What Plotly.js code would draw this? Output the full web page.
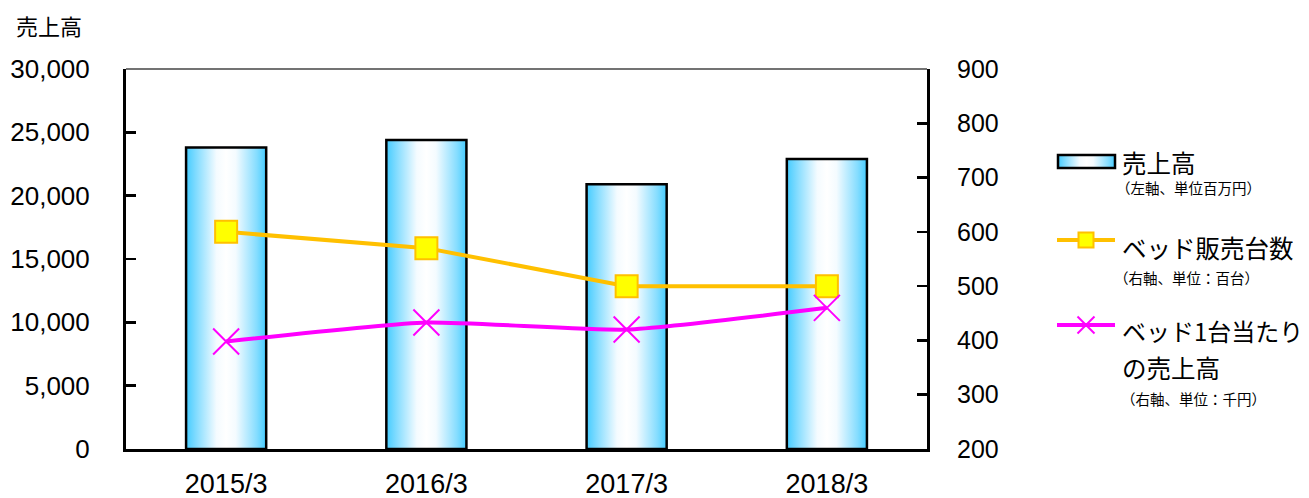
<!DOCTYPE html>
<html>
<head>
<meta charset="utf-8">
<script src="https://cdn.plot.ly/plotly-3.0.1.min.js"></script>
<style>html,body{margin:0;padding:0;background:#fff;}#chart{width:1309px;height:498px;}</style>
</head>
<body>
<div id="chart"></div>
<script>
// ---- data ----
const categories = ['2015/3', '2016/3', '2017/3', '2018/3'];
const salesMillionYen = [23800, 24400, 20900, 22900];
const bedUnitsHundreds = [600, 570, 500, 500];
const salesPerBedThousandYen = [398, 433, 420, 460];
const leftTickValues = [0, 5000, 10000, 15000, 20000, 25000, 30000];
const rightTickValues = [200, 300, 400, 500, 600, 700, 800, 900];
const axisTitle = '売上高';
const legendMain = ['売上高', 'ベッド販売台数', 'ベッド1台当たり', 'の売上高'];
const legendSub = ['（左軸、単位百万円）', '（右軸、単位：百台）', '（右軸、単位：千円）'];

// ---- layout geometry (pixels) ----
const W = 1309, H = 498;
const PL = 126, PR = 927, PT = 69, PB = 449;
const px = x => (x - PL) / (PR - PL);
const py = y => (PB - y) / (PB - PT);

const JP = '"Noto Sans CJK JP", "Noto Sans", sans-serif';
const NUM = '"Liberation Sans", Arial, sans-serif';
const ORANGE = '#FFC000', MAGENTA = '#FF00FF', SENTINEL = 'rgb(69, 204, 255)';

const traces = [
  {
    type: 'bar', x: categories, y: salesMillionYen, name: legendMain[0],
    marker: { color: SENTINEL, line: { color: '#000', width: 2.5 } },
    yaxis: 'y', hoverinfo: 'skip'
  },
  {
    type: 'scatter', mode: 'lines+markers', x: categories, y: bedUnitsHundreds, yaxis: 'y2',
    line: { color: ORANGE, width: 4 },
    marker: { symbol: 'square', size: 22, color: '#FFFF00', line: { color: ORANGE, width: 2 } },
    hoverinfo: 'skip'
  },
  {
    type: 'scatter', mode: 'lines+markers', x: categories, y: salesPerBedThousandYen, yaxis: 'y2',
    line: { color: MAGENTA, width: 4, shape: 'spline', smoothing: 0.5 },
    marker: { symbol: 'x-thin', size: 26, color: MAGENTA, line: { color: MAGENTA, width: 2 } },
    hoverinfo: 'skip'
  }
];

const shapes = [
  // thin top border
  { type: 'line', xref: 'paper', yref: 'paper', x0: 0, x1: 1, y0: 1, y1: 1, line: { color: '#444', width: 1.5 } },
  // legend: bar symbol
  { type: 'rect', xref: 'paper', yref: 'paper', x0: px(1058), x1: px(1115), y0: py(168), y1: py(155),
    fillcolor: SENTINEL, line: { color: '#000', width: 2.5 } },
  // legend: orange line + square
  { type: 'line', xref: 'paper', yref: 'paper', x0: px(1057), x1: px(1115), y0: py(240), y1: py(240),
    line: { color: ORANGE, width: 4 } },
  { type: 'rect', xref: 'paper', yref: 'paper', x0: px(1078.5), x1: px(1093.5), y0: py(247.5), y1: py(232.5),
    fillcolor: '#FFFF00', line: { color: ORANGE, width: 2 } },
  // legend: magenta line + x
  { type: 'line', xref: 'paper', yref: 'paper', x0: px(1057), x1: px(1115), y0: py(325), y1: py(325),
    line: { color: MAGENTA, width: 4 } },
  { type: 'line', xref: 'paper', yref: 'paper', x0: px(1077.5), x1: px(1094.5), y0: py(316.5), y1: py(333.5),
    line: { color: MAGENTA, width: 2 } },
  { type: 'line', xref: 'paper', yref: 'paper', x0: px(1077.5), x1: px(1094.5), y0: py(333.5), y1: py(316.5),
    line: { color: MAGENTA, width: 2 } }
];

function ann(text, x, y, size) {
  return { text: text, xref: 'paper', yref: 'paper', x: px(x), y: py(y), xanchor: 'left', yanchor: 'middle',
    showarrow: false, font: { family: JP, size: size, color: '#000' }, borderpad: 0 };
}

const annotations = [
  ann(axisTitle, 15, 25, 22),
  ann(legendMain[0], 1121, 162, 24.5),
  ann(legendSub[0], 1115, 187, 14.5),
  ann(legendMain[1], 1121, 247, 24.5),
  ann(legendSub[1], 1113, 277, 14.5),
  ann(legendMain[2], 1121, 330, 24),
  ann(legendMain[3], 1121, 367, 24.5),
  ann(legendSub[2], 1120, 398, 14.5)
];

const layout = {
  width: W, height: H,
  margin: { l: PL, r: W - PR, t: PT, b: H - PB, pad: 0 },
  paper_bgcolor: '#fff', plot_bgcolor: '#fff',
  showlegend: false,
  bargap: 0.6,
  xaxis: {
    type: 'category', categoryorder: 'array', categoryarray: categories, range: [-0.5, 3.5],
    showline: true, linecolor: '#000', linewidth: 3, ticks: '', showgrid: false, zeroline: false,
    tickfont: { family: NUM, size: 27, color: '#000' }, ticklabelstandoff: 9, fixedrange: true
  },
  yaxis: {
    range: [0, 30000], tickvals: leftTickValues, tickformat: ',d',
    showline: true, linecolor: '#000', linewidth: 3, ticks: 'inside', ticklen: 10, tickwidth: 2.5, tickcolor: '#000',
    showgrid: false, zeroline: false,
    tickfont: { family: NUM, size: 26, color: '#000' }, ticklabelstandoff: 28, fixedrange: true
  },
  yaxis2: {
    range: [200, 900], tickvals: rightTickValues, overlaying: 'y', side: 'right',
    showline: true, linecolor: '#000', linewidth: 3, ticks: 'inside', ticklen: 10, tickwidth: 2.5, tickcolor: '#000',
    showgrid: false, zeroline: false,
    tickfont: { family: NUM, size: 25, color: '#000' }, ticklabelstandoff: 22, fixedrange: true
  },
  shapes: shapes,
  annotations: annotations
};

Plotly.newPlot('chart', traces, layout, { staticPlot: true, displayModeBar: false }).then(function (gd) {
  // horizontal cyan-white-cyan gradient for bars and legend bar symbol
  const svg = gd.querySelector('svg.main-svg');
  const NS = 'http://www.w3.org/2000/svg';
  let defs = svg.querySelector('defs');
  if (!defs) { defs = document.createElementNS(NS, 'defs'); svg.insertBefore(defs, svg.firstChild); }
  const g = document.createElementNS(NS, 'linearGradient');
  g.setAttribute('id', 'barGrad');
  g.setAttribute('x1', '0'); g.setAttribute('x2', '1'); g.setAttribute('y1', '0'); g.setAttribute('y2', '0');
  [[0, '#45CCFF'], [0.12, '#7FDBFF'], [0.38, '#F4FBFF'], [0.5, '#FFFFFF'], [0.62, '#F4FBFF'], [0.88, '#86DDFF'], [1, '#45CCFF']]
    .forEach(function (s) {
      const st = document.createElementNS(NS, 'stop');
      st.setAttribute('offset', s[0]); st.setAttribute('stop-color', s[1]);
      g.appendChild(st);
    });
  defs.appendChild(g);
  gd.querySelectorAll('path').forEach(function (p) {
    const f = p.style.fill;
    if (f && f.replace(/\s/g, '') === SENTINEL.replace(/\s/g, '')) p.style.fill = 'url(#barGrad)';
  });
});
</script>
</body>
</html>
